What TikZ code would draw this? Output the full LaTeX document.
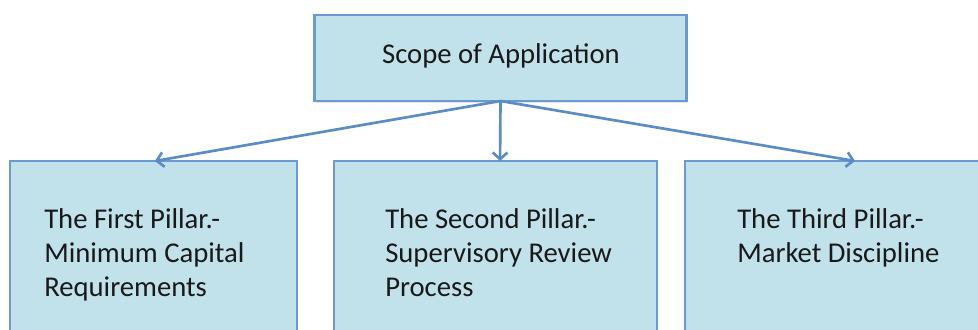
\documentclass[tikz,border=0pt]{standalone}
\usepackage{fontspec}
\setmainfont{Carlito}
\usetikzlibrary{arrows.meta,shadows}
\definecolor{boxfill}{HTML}{C1E2EB}
\definecolor{boxline}{HTML}{6A9AD0}
\definecolor{arrcol}{HTML}{5B8DC5}
\begin{document}
\begin{tikzpicture}[x=0.75pt,y=-0.75pt,
  box/.style={draw=boxline,line width=1.6pt,fill=boxfill,inner sep=0pt,outer sep=0pt,
    drop shadow={opacity=0.2,shadow xshift=0.8pt,shadow yshift=-1.2pt}},
  lbl/.style={font=\fontsize{21.5}{25.5}\selectfont,inner sep=0pt,align=left,text=black!90},
  arr/.style={draw=arrcol,line width=2pt,-{Straight Barb[length=5pt,width=11pt,line width=2pt]}}]
\clip (0,0) rectangle (978,329);
\fill[white] (0,0) rectangle (978,329);
\node[box,minimum width=279pt,minimum height=64.5pt] (top) at (500.5,58) {};
\node[box,minimum width=215.25pt,minimum height=138pt] (left) at (153.5,253) {};
\node[box,minimum width=242.25pt,minimum height=138pt] (mid) at (495.5,253) {};
\node[box,minimum width=236.25pt,minimum height=138pt] (right) at (842.5,253) {};
\node[lbl,anchor=base] (ttop) at (501,63) {Scope of Application};
\node[lbl,anchor=north west] (tleft) at (44,208) {The First Pillar.-\\Minimum Capital\\Requirements};
\node[lbl,anchor=north west] (tmid) at (385,208) {The Second Pillar.-\\Supervisory Review\\Process};
\node[lbl,anchor=north west] (tright) at (737,208) {The Third Pillar.-\\Market Discipline};
\draw[arr] (top.south) -- ([xshift=1.1pt]left.north);
\draw[arr] (top.south) -- ([xshift=3.4pt]mid.north);
\draw[arr] (top.south) -- ([xshift=9.4pt]right.north);
\end{tikzpicture}
\end{document}
